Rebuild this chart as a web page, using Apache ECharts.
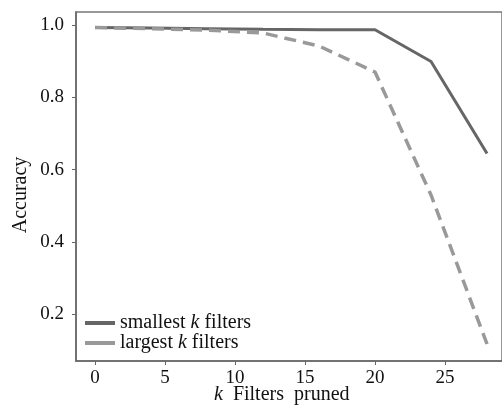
<!DOCTYPE html>
<html>
<head>
<meta charset="utf-8">
<script src="https://cdn.jsdelivr.net/npm/echarts@6/dist/echarts.min.js"></script>
<style>
html,body{margin:0;padding:0;background:#fff;}
#chart{width:502px;height:408px;}
</style>
</head>
<body>
<div id="chart"></div>
<script>
const kValues = [0, 4, 8, 12, 16, 20, 24, 28];
const smallestK = [0.993, 0.992, 0.990, 0.988, 0.987, 0.987, 0.899, 0.645];
const largestK  = [0.993, 0.990, 0.986, 0.978, 0.942, 0.870, 0.530, 0.118];
const xTicks = [0, 5, 10, 15, 20, 25];
const yTicks = [0.2, 0.4, 0.6, 0.8, 1.0];
const seriesNames = ['smallest', 'largest'];

const font = 'Liberation Serif';
const chart = echarts.init(document.getElementById('chart'));
chart.setOption({
  animation: false,
  backgroundColor: '#fff',
  grid: {left: 76, top: 12, right: 0, bottom: 47, show: true, borderColor: '#777', borderWidth: 1.5},
  xAxis: {
    type: 'value', min: -1.36, max: 29.07,
    axisLine: {show: true, onZero: false, lineStyle: {color: '#666', width: 1.5}},
    axisTick: {show: true, length: 4, lineStyle: {color: '#666'}, customValues: xTicks},
    axisLabel: {color: '#111', fontFamily: font, fontSize: 19, margin: 8, customValues: xTicks},
    splitLine: {show: false}
  },
  yAxis: {
    type: 'value', min: 0.071, max: 1.036,
    axisLine: {show: true, onZero: false, lineStyle: {color: '#666', width: 1.5}},
    axisTick: {show: true, length: 4, lineStyle: {color: '#666'}, customValues: yTicks},
    axisLabel: {color: '#111', fontFamily: font, fontSize: 19, margin: 12, customValues: yTicks,
      formatter: v => v.toFixed(1)},
    splitLine: {show: false}
  },
  legend: {
    orient: 'vertical', left: 80, top: 313, itemWidth: 30, itemHeight: 4, itemGap: 0,
    icon: 'rect', padding: [0, 5],
    data: [
      {name: seriesNames[0], itemStyle: {color: '#666'}},
      {name: seriesNames[1], itemStyle: {color: '#999'}}
    ],
    formatter: n => n + ' {i|k} filters',
    textStyle: {color: '#111', fontFamily: font, fontSize: 20, lineHeight: 19,
      rich: {i: {fontStyle: 'italic', fontFamily: font, fontSize: 20, lineHeight: 19, color: '#111'}}}
  },
  series: [
    {name: seriesNames[0], type: 'line', showSymbol: false, symbol: 'none',
     data: kValues.map((k, i) => [k, smallestK[i]]),
     lineStyle: {color: '#666', width: 3}, itemStyle: {color: '#666'}},
    {name: seriesNames[1], type: 'line', showSymbol: false, symbol: 'none',
     data: kValues.map((k, i) => [k, largestK[i]]),
     lineStyle: {color: '#999', width: 3.5, type: [12, 7]}, itemStyle: {color: '#999'}}
  ],
  graphic: [
    {type: 'text', left: 214, top: 385,
     style: {text: '{i|k}  Filters  pruned', fill: '#111', font: '20px "Liberation Serif"',
       rich: {i: {fontStyle: 'italic', fontFamily: font, fontSize: 20, fill: '#111'}}}},
    {type: 'text', x: 21, y: 195, rotation: Math.PI / 2,
     style: {text: 'Accuracy', fill: '#111', font: '20px "Liberation Serif"', align: 'center', verticalAlign: 'middle'}}
  ]
});
</script>
</body>
</html>
